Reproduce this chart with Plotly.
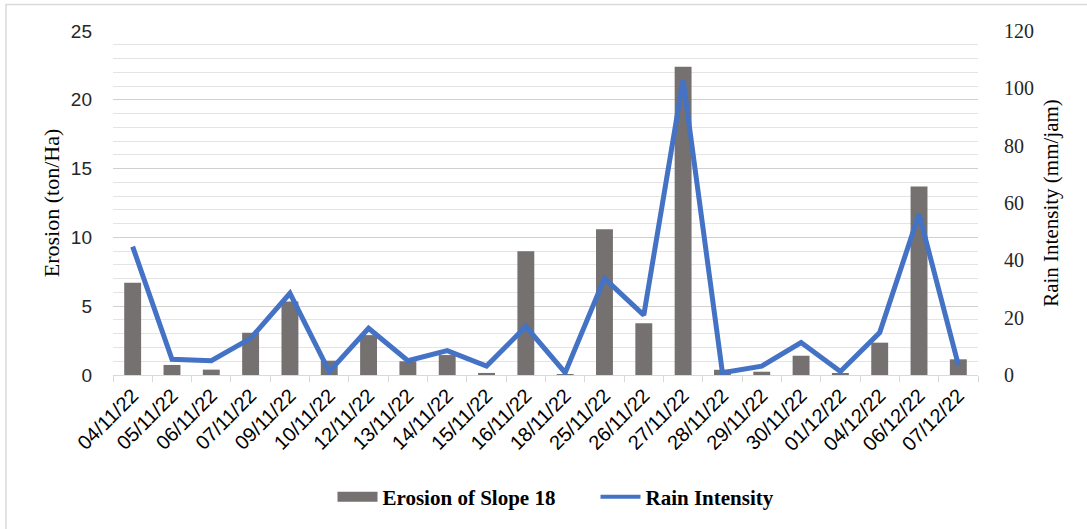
import plotly.graph_objects as go

dates = ["04/11/22", "05/11/22", "06/11/22", "07/11/22", "09/11/22", "10/11/22",
         "12/11/22", "13/11/22", "14/11/22", "15/11/22", "16/11/22", "18/11/22",
         "25/11/22", "26/11/22", "27/11/22", "28/11/22", "29/11/22", "30/11/22",
         "01/12/22", "04/12/22", "06/12/22", "07/12/22"]
erosion = [6.7, 0.73, 0.39, 3.07, 5.35, 1.04, 2.9, 1.0, 1.45, 0.15, 9.0, 0.02,
           10.6, 3.76, 22.4, 0.38, 0.24, 1.4, 0.1, 2.35, 13.7, 1.14]
rain = [44.8, 5.5, 5.0, 12.8, 28.5, 1.2, 16.3, 5.0, 8.5, 3.1, 16.9, 0.8,
        33.7, 20.9, 102.9, 0.8, 3.1, 11.3, 1.2, 14.8, 56.2, 3.5]

BAR_COLOR = "#767171"
LINE_COLOR = "#4472C4"

W, H = 1087, 529
L, R, T, B = 113, 109, 31, 154
pw, ph = W - L - R, H - T - B

fig = go.Figure()
fig.add_trace(go.Bar(x=dates, y=erosion, name="Erosion of Slope 18",
                     marker=dict(color=BAR_COLOR, line=dict(width=0)),
                     width=0.43, yaxis="y", showlegend=False))
fig.add_trace(go.Scatter(x=dates, y=rain, name="Rain Intensity", mode="lines",
                         line=dict(color=LINE_COLOR, width=5), yaxis="y2",
                         showlegend=False))
# legend entries (wide swatches like the original)
fig.add_trace(go.Scatter(x=[None], y=[None], name="Erosion of Slope 18", mode="lines",
                         line=dict(color=BAR_COLOR, width=12), yaxis="y"))
fig.add_trace(go.Scatter(x=[None], y=[None], name="Rain Intensity", mode="lines",
                         line=dict(color=LINE_COLOR, width=4), yaxis="y2"))

fig.update_layout(
    width=W, height=H,
    margin=dict(l=L, r=R, t=T, b=B),
    paper_bgcolor="white", plot_bgcolor="white",
    showlegend=True,
    legend=dict(orientation="h", x=0.5 + 50 / pw, xanchor="center", y=(375 - 497) / ph,
                yanchor="middle",
                font=dict(family="Liberation Serif", size=21, color="black", weight="bold"),
                itemwidth=40, tracegroupgap=0, itemsizing="trace",
                entrywidth=208, entrywidthmode="pixels"),
    xaxis=dict(type="category", tickson="boundaries", ticks="outside", ticklen=6,
               tickcolor="#d9d9d9", showline=True, linecolor="#d9d9d9", linewidth=1,
               showgrid=False, tickangle=-45,
               tickfont=dict(family="Liberation Sans", size=20, color="black")),
    yaxis=dict(range=[0, 25], dtick=5, showgrid=True, gridcolor="#d0d0d0", gridwidth=1,
               minor=dict(dtick=1, showgrid=True, gridcolor="#e4e4e4", gridwidth=1),
               zeroline=False, showline=False, ticks="", ticklabelstandoff=20,
               tickfont=dict(family="Liberation Sans", size=19, color="#262626"),
               title=dict(text="Erosion (ton/Ha)", standoff=5,
                          font=dict(family="Liberation Serif", size=22, color="black"))),
    yaxis2=dict(range=[0, 120], dtick=20, overlaying="y", side="right", showgrid=False,
                zeroline=False, showline=False, ticks="", ticklabelstandoff=25,
                tickfont=dict(family="Liberation Serif", size=20, color="#262626"),
                title=dict(text="Rain Intensity (mm/jam)", standoff=10,
                           font=dict(family="Liberation Serif", size=21, color="black"))),
)

fig.add_shape(type="rect", xref="paper", yref="paper",
              x0=(6 - L) / pw, x1=(1100 - L) / pw,
              y0=(375 - 540) / ph, y1=(375 - 4.5) / ph,
              line=dict(color="#d9d9d9", width=1.5), fillcolor="rgba(0,0,0,0)", layer="below")

fig.write_html("out.html", config={"displayModeBar": False},
               post_script="document.body.style.margin='0';")
